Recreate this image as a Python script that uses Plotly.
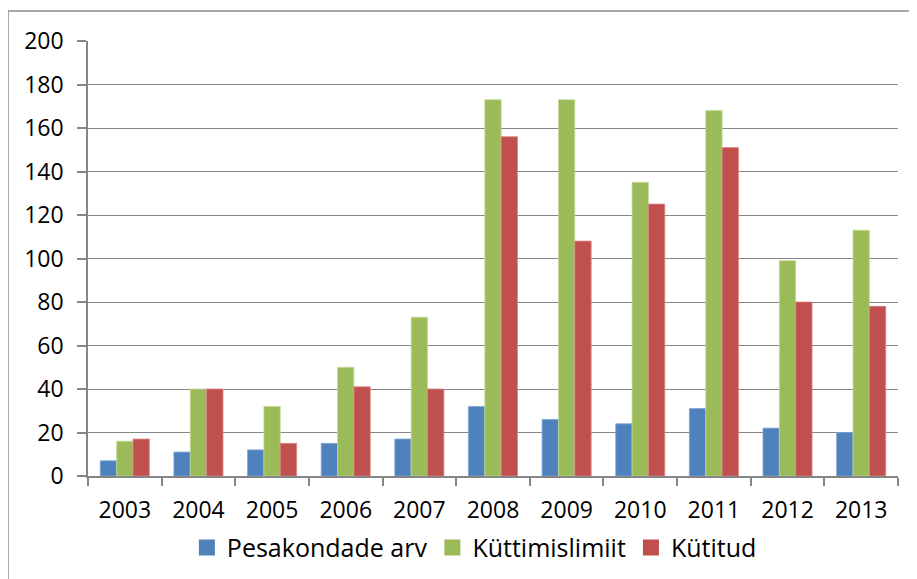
import plotly.graph_objects as go

years = ["2003", "2004", "2005", "2006", "2007", "2008", "2009", "2010", "2011", "2012", "2013"]
pesakondade_arv = [7, 11, 12, 15, 17, 32, 26, 24, 31, 22, 20]
kuttimislimiit = [16, 40, 32, 50, 73, 173, 173, 135, 168, 99, 113]
kutitud = [17, 40, 15, 41, 40, 156, 108, 125, 151, 80, 78]

series = [
    ("Pesakondade arv", pesakondade_arv, "#4F81BD", "#7EA3D3"),
    ("Küttimislimiit", kuttimislimiit, "#9BBB59", "#C3DA9A"),
    ("Kütitud", kutitud, "#C0504D", "#D98785"),
]

FONT = "Open Sans, sans-serif"
W, H = 917, 579
OFF = 8  # page body margin
L, R, T, B = 88 - OFF, 898 - OFF, 41 - OFF, 476 - OFF

fig = go.Figure()
for name, vals, col, edge in series:
    fig.add_trace(go.Bar(
        x=years, y=vals, name=name, showlegend=False,
        marker=dict(color=col, line=dict(color=edge, width=0.8)),
    ))
for name, vals, col, edge in series:
    fig.add_trace(go.Scatter(
        x=[None], y=[None], name=name, mode="markers",
        marker=dict(symbol="square", size=16, color=col),
    ))

pw, ph = R - L, B - T
def px_to_paper(x, y):
    return (x - OFF - L) / pw, (B - (y - OFF)) / ph

x0, y1 = px_to_paper(8, 11)
x1, y0 = px_to_paper(960, 640)
fig.add_shape(type="rect", xref="paper", yref="paper", x0=x0, x1=x1, y0=y0, y1=y1,
              line=dict(color="#8C8C8C", width=1.5), fillcolor="rgba(0,0,0,0)", layer="below")

fig.update_layout(
    width=W, height=H,
    margin=dict(l=L, r=W - R, t=T, b=H - B, pad=0, autoexpand=False),
    paper_bgcolor="white", plot_bgcolor="white",
    barmode="group", bargap=0.334, bargroupgap=0,
    font=dict(family=FONT, size=23, color="#000000"),
    legend=dict(orientation="h", x=0.477, xanchor="center", y=-0.112, yanchor="top",
                font=dict(family=FONT, size=25, color="#000000"),
                itemwidth=30, tracegroupgap=0, bgcolor="rgba(0,0,0,0)"),
    showlegend=True,
)
fig.update_xaxes(
    type="category", showgrid=False, showline=True, linecolor="#868686", linewidth=1.5,
    ticks="outside", tickson="boundaries", ticklen=8, tickcolor="#868686", tickwidth=1.5,
    tickfont=dict(family=FONT, size=23), ticklabelstandoff=13, automargin=False,
)
fig.update_yaxes(
    range=[0, 200], dtick=20, tick0=0, showgrid=True, gridcolor="#868686", gridwidth=1.2,
    showline=True, linecolor="#868686", linewidth=1.5, zeroline=False,
    ticks="outside", ticklen=9, tickcolor="#868686", tickwidth=1.5,
    tickfont=dict(family=FONT, size=23), ticklabelstandoff=9, automargin=False,
)

fig.write_html("out.html")
